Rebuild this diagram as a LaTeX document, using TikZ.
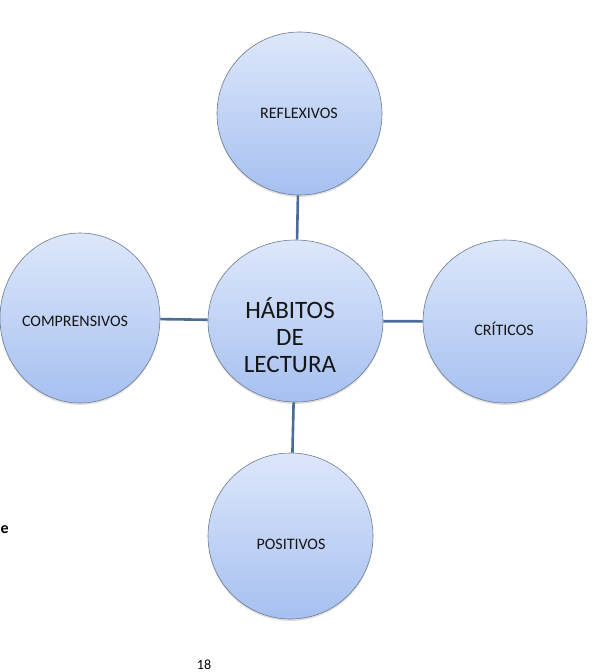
\documentclass[tikz,border=0pt]{standalone}
\usepackage{fontspec}
\setmainfont{Carlito}
\usetikzlibrary{shapes.geometric,shadows}
\definecolor{bubbletop}{HTML}{DDE7FB}
\definecolor{bubblebot}{HTML}{A6C0F0}
\definecolor{bubbleedge}{HTML}{6E7B8F}
\definecolor{linkblue}{HTML}{4A6C97}
\definecolor{inktext}{HTML}{151515}

\begin{document}
\begin{tikzpicture}[x=1pt,y=-1pt,
  bubble/.style={ellipse, draw=bubbleedge, line width=0.6pt,
    top color=bubbletop, bottom color=bubblebot, inner sep=0pt,
    drop shadow={shadow xshift=0pt, shadow yshift=-2pt, opacity=0.25}},
  link/.style={draw=linkblue, line width=2.6pt},
  smalltxt/.style={font=\fontsize{16}{19}\selectfont, text=inktext},
  bigtxt/.style={font=\fontsize{25}{27}\selectfont, text=inktext, align=center}]
\useasboundingbox (0,0) rectangle (594,672);

% the five bubbles
\node[bubble, minimum width=165pt, minimum height=163pt] (reflexivos) at (299.5,113.5) {};
\node[bubble, minimum width=175pt, minimum height=162pt] (habitos) at (295.5,321) {};
\node[bubble, minimum width=160pt, minimum height=170pt] (comprensivos) at (80,318) {};
\node[bubble, minimum width=164pt, minimum height=163pt] (criticos) at (505,321.5) {};
\node[bubble, minimum width=165pt, minimum height=166pt] (positivos) at (290.5,536) {};

% spokes from the hub
\draw[link] (habitos) -- (reflexivos);
\draw[link] (habitos) -- (comprensivos);
\draw[link] (habitos) -- (criticos);
\draw[link] (habitos) -- (positivos);

% labels
\node[bigtxt] (t-habitos) at (290,335) {HÁBITOS\\DE\\LECTURA};
\node[smalltxt] (t-reflexivos) at (299,113) {REFLEXIVOS};
\node[smalltxt] (t-comprensivos) at (75,321) {COMPRENSIVOS};
\node[smalltxt] (t-criticos) at (504,329) {CRÍTICOS};
\node[smalltxt] (t-positivos) at (291,544) {POSITIVOS};

% stray letter at the left edge and the page number
\node[font=\fontsize{16}{19}\selectfont\bfseries, anchor=west, inner sep=0pt] (frag) at (0.5,530) {e};
\node[font=\fontsize{14}{17}\selectfont, inner sep=0pt] (pageno) at (204,665) {18};
\end{tikzpicture}
\end{document}
